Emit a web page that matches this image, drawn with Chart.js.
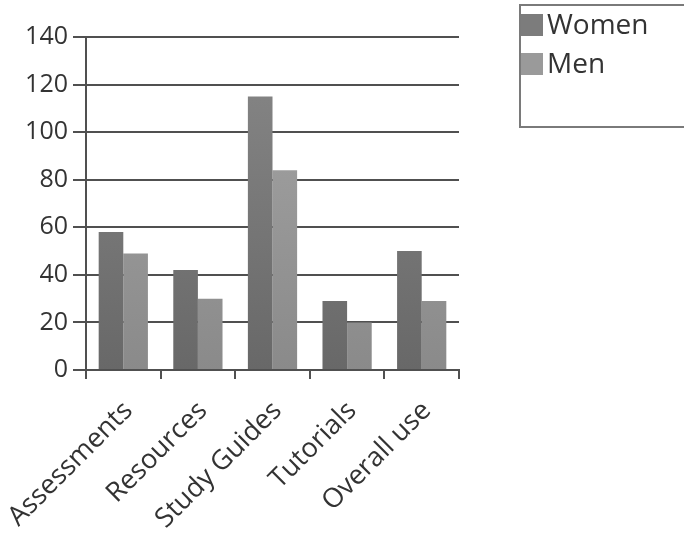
<!DOCTYPE html>
<html>
<head>
<meta charset="utf-8">
<script src="https://cdn.jsdelivr.net/npm/chart.js@4.4.1/dist/chart.umd.min.js"></script>
<style>
  html, body { margin: 0; padding: 0; background: #ffffff; }
  #wrap { width: 684px; height: 533px; position: relative; }
</style>
</head>
<body>
<div id="wrap"><canvas id="c" width="684" height="533"></canvas></div>
<script>
// Usage counts per resource type, split by gender
const categories = ['Assessments', 'Resources', 'Study Guides', 'Tutorials', 'Overall use'];
const women = [58, 42, 115, 29, 50];
const men = [49, 30, 84, 20, 29];
const yTicks = [0, 20, 40, 60, 80, 100, 120, 140];
const seriesNames = ['Women', 'Men'];

const FONT = '"Open Sans", "DejaVu Sans", sans-serif';

function barGradient(top, bottom) {
  return (ctx) => {
    const area = ctx.chart.chartArea;
    if (!area) return bottom;
    const g = ctx.chart.ctx.createLinearGradient(0, area.top, 0, area.bottom);
    g.addColorStop(0, top);
    g.addColorStop(1, bottom);
    return g;
  };
}

const swatch = ['#7c7c7c', '#9a9a9a'];

// Boxed legend in the upper right corner
const boxedLegend = {
  id: 'boxedLegend',
  afterDraw(chart) {
    const ctx = chart.ctx;
    ctx.save();
    ctx.strokeStyle = '#7a7a7a';
    ctx.lineWidth = 2;
    ctx.strokeRect(520, 5, 180, 122);
    ctx.font = '28px ' + FONT;
    ctx.textBaseline = 'middle';
    chart.data.datasets.forEach((ds, i) => {
      const y = 25 + i * 39;
      ctx.fillStyle = swatch[i];
      ctx.fillRect(521, y - 11, 22, 22);
      ctx.fillStyle = '#333333';
      ctx.fillText(ds.label, 547, y + 1);
    });
    ctx.restore();
  }
};

new Chart(document.getElementById('c'), {
  type: 'bar',
  data: {
    labels: categories,
    datasets: [
      { label: seriesNames[0], data: women, backgroundColor: barGradient('#888888', '#686868') },
      { label: seriesNames[1], data: men, backgroundColor: barGradient('#a6a6a6', '#8a8a8a') }
    ]
  },
  options: {
    responsive: false,
    animation: false,
    devicePixelRatio: 1,
    layout: { padding: { top: 37, right: 225, left: 0, bottom: 0 } },
    plugins: {
      legend: { display: false },
      tooltip: { enabled: false }
    },
    datasets: {
      bar: { barPercentage: 1.0, categoryPercentage: 0.66 }
    },
    scales: {
      x: {
        offset: true,
        grid: {
          offset: true,
          drawOnChartArea: true,
          color: (c) => (c.index === categories.length ? '#b0b0b0' : 'rgba(0,0,0,0)'),
          tickColor: '#505050',
          tickLength: 9,
          lineWidth: 2
        },
        border: { color: '#505050', width: 2 },
        ticks: {
          color: '#333333',
          font: { family: FONT, size: 27 },
          minRotation: 45,
          maxRotation: 45,
          padding: 16,
          labelOffset: 5
        },
        afterFit(scale) {
          scale.height = 163;
          scale.paddingLeft = 0;
          scale.paddingRight = 0;
        }
      },
      y: {
        min: 0,
        max: 140,
        afterBuildTicks(scale) { scale.ticks = yTicks.map(v => ({ value: v })); },
        grid: {
          color: '#505050',
          lineWidth: 2,
          tickLength: 13
        },
        border: { color: '#505050', width: 2 },
        ticks: {
          color: '#333333',
          font: { family: FONT, size: 25 },
          padding: 5
        },
        afterFit(scale) {
          scale.width = 86;
          scale.paddingTop = 0;
          scale.paddingBottom = 0;
        }
      }
    }
  },
  plugins: [boxedLegend]
});
</script>
</body>
</html>
